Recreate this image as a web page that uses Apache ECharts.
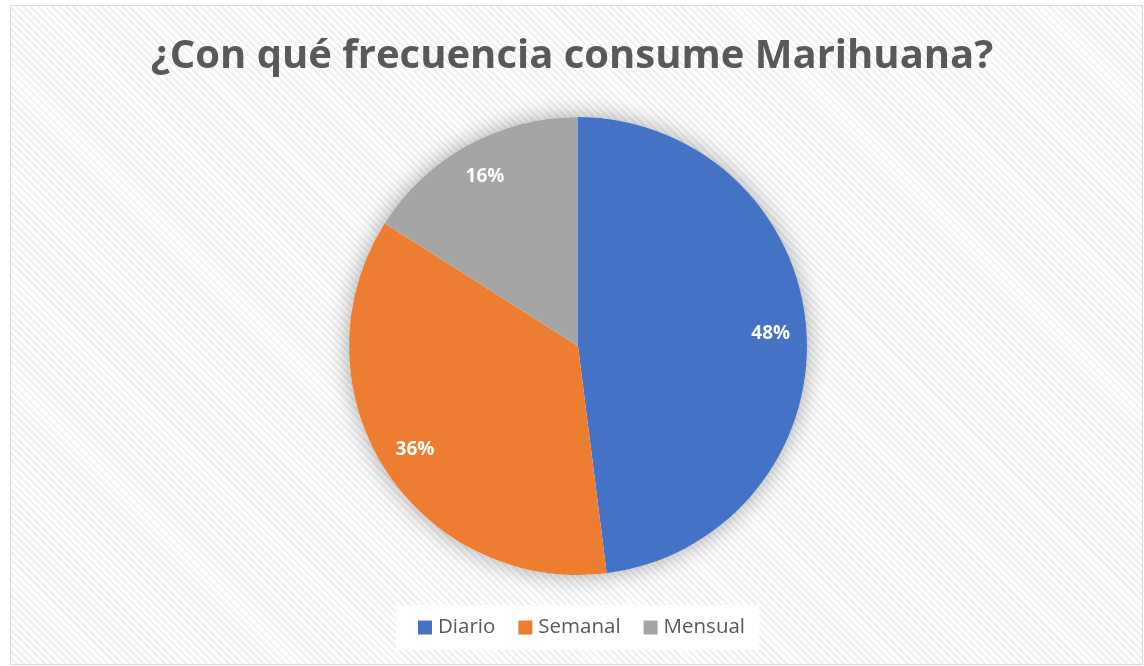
<!DOCTYPE html>
<html>
<head>
<meta charset="utf-8">
<script src="https://cdn.jsdelivr.net/npm/echarts@6/dist/echarts.min.js"></script>
<style>
  html, body { margin: 0; padding: 0; background: #ffffff; }
  #frame {
    position: absolute; left: 10px; top: 5px; width: 1131px; height: 658px;
    border: 1px solid #d9d9d9;
    background: repeating-linear-gradient(45deg, #ffffff 0px, #ffffff 3px, #f0f0f0 3px, #f0f0f0 5px);
  }
  #chart { position: absolute; left: 0; top: 0; width: 1144px; height: 666px; }
</style>
</head>
<body>
<div id="frame"></div>
<div id="chart"></div>
<script>
// Frecuencia de consumo (porcentaje de encuestados)
const titleText = '¿Con qué frecuencia consume Marihuana?';
const categories = ['Diario', 'Semanal', 'Mensual'];
const percentages = [48, 36, 16];
const colors = ['#4472c4', '#ed7d31', '#a5a5a5'];

const pieData = categories.map((name, i) => ({ name, value: percentages[i] }));
const center = [578, 346];
const outer = 229;

const chart = echarts.init(document.getElementById('chart'), null, { renderer: 'canvas' });
chart.setOption({
  backgroundColor: 'transparent',
  animation: false,
  title: {
    text: titleText,
    left: 'center',
    top: 32,
    textStyle: { fontFamily: 'Open Sans', fontWeight: 'bold', fontSize: 40, color: '#595959' }
  },
  legend: {
    data: categories,
    bottom: 16,
    left: 396,
    itemWidth: 14,
    itemHeight: 14,
    itemGap: 23,
    icon: 'rect',
    padding: [12, 14, 12, 22],
    backgroundColor: '#ffffff',
    textStyle: { fontFamily: 'Open Sans', fontSize: 20.5, color: '#595959', padding: [0, 0, 0, 1] }
  },
  series: [
    {
      // soft drop shadow behind the whole disc
      type: 'pie',
      silent: true,
      legendHoverLink: false,
      center: center,
      radius: outer,
      label: { show: false },
      labelLine: { show: false },
      itemStyle: { color: '#ffffff', shadowBlur: 24, shadowColor: 'rgba(0,0,0,0.35)' },
      data: [{ name: '', value: 1 }],
      tooltip: { show: false }
    },
    {
      type: 'pie',
      center: center,
      radius: outer,
      startAngle: 90,
      clockwise: true,
      color: colors,
      label: { show: false },
      labelLine: { show: false },
      data: pieData
    },
    {
      // percentage labels placed near the rim
      type: 'pie',
      silent: true,
      center: center,
      radius: [outer * 0.66, outer],
      startAngle: 90,
      clockwise: true,
      itemStyle: { color: 'transparent' },
      labelLine: { show: false },
      label: {
        show: true,
        position: 'inside',
        formatter: p => p.value + '%',
        fontFamily: 'Open Sans',
        fontWeight: 'bold',
        fontSize: 19,
        color: '#ffffff'
      },
      data: pieData
    }
  ]
});
</script>
</body>
</html>
